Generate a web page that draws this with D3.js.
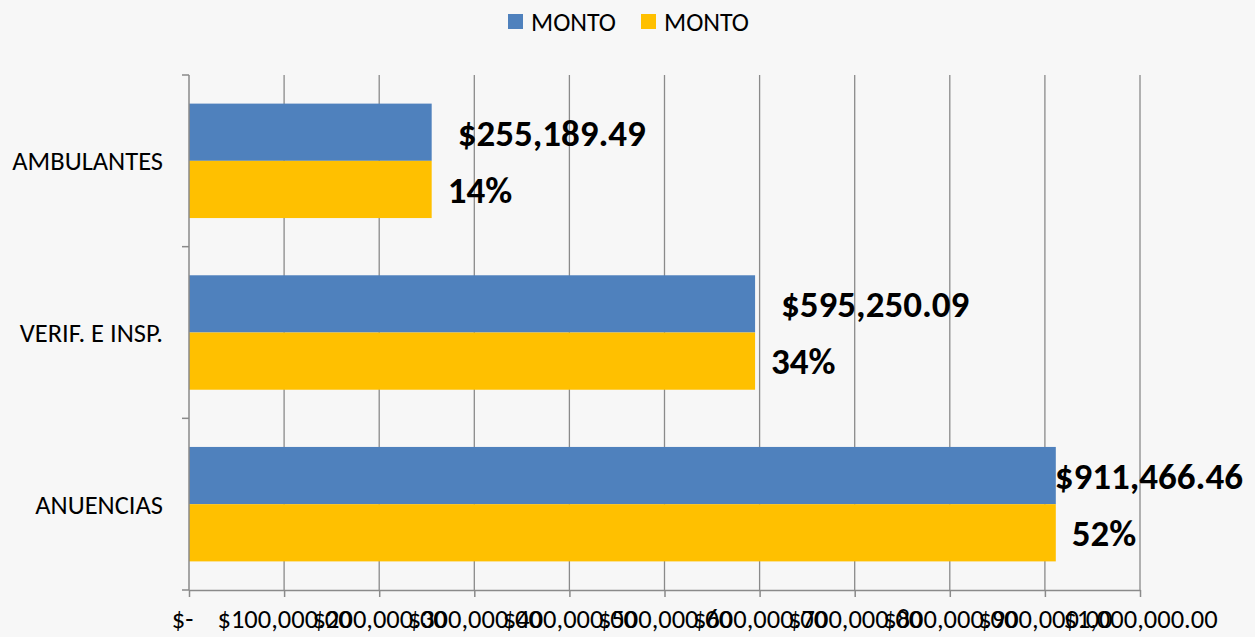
<!DOCTYPE html>
<html>
<head>
<meta charset="utf-8">
<script src="https://cdn.jsdelivr.net/npm/d3@7/dist/d3.min.js"></script>
<style>
	html, body { margin: 0; padding: 0; background: #f7f7f7; }
	svg { display: block; font-family: Carlito, Calibri, Lato, sans-serif; }
</style>
</head>
<body>
<div id="chart"></div>
<script>

	var categories   = ["AMBULANTES", "VERIF. E INSP.", "ANUENCIAS"];
	var seriesNames  = ["MONTO", "MONTO"];
	var seriesColors = ["#4f81bd", "#ffc000"];
	var montoValues  = [255189.49, 595250.09, 911466.46];
	var shareValues  = [255189.49, 595250.09, 911466.46];   // yellow bars are drawn at the same length
	var shareLabels  = ["14%", "34%", "52%"];
	var xTickValues  = [0, 100000, 200000, 300000, 400000, 500000, 600000, 700000, 800000, 900000, 1000000];

(function(){
	"use strict";

	var width   = 1255;
	var height  = 637;
	var pLeft   = 189;
	var pRight  = 1140;
	var pTop    = 75;
	var pBottom = 590;
	var axisColor = "#8a8a8a";
	var labelSize = "26.5px";
	var valueSize = "37px";

	var money = d3.format("$,.2f");

	var svg = d3.select("#chart")
				.append("svg")
				.attr("width", width)
				.attr("height", height);

	svg.append("rect")
		.attr("width", width)
		.attr("height", height)
		.style("fill", "#f7f7f7");

	var x = d3.scaleLinear()
				.domain([0, 1000000])
				.range([pLeft, pRight]);

	var y0 = d3.scaleBand()
				.domain(categories)
				.range([pTop, pBottom])
				.padding(0);

	var y1 = d3.scaleBand()
				.domain([0, 1])
				.range([0, y0.bandwidth()])
				.paddingInner(0)
				.paddingOuter(0.5);

	// vertical gridlines
	svg.append("g")
		.selectAll("line")
		.data(xTickValues.slice(1))
		.enter()
		.append("line")
		.attr("x1", function(d){ return x(d); })
		.attr("x2", function(d){ return x(d); })
		.attr("y1", pTop)
		.attr("y2", pBottom)
		.style("stroke", axisColor)
		.style("stroke-width", 1.3);

	// bars
	var rows = categories.map(function(c, i){
		return { cat: c, values: [montoValues[i], shareValues[i]], labels: [money(montoValues[i]), shareLabels[i]] };
	});

	var group = svg.selectAll("g.cat")
				.data(rows)
				.enter()
				.append("g")
				.attr("class", "cat")
				.attr("transform", function(d){ return "translate(0," + y0(d.cat) + ")"; });

	group.selectAll("rect")
		.data(function(d){ return d.values; })
		.enter()
		.append("rect")
		.attr("x", x(0))
		.attr("y", function(d, i){ return y1(i); })
		.attr("width", function(d){ return x(d) - x(0); })
		.attr("height", y1.bandwidth())
		.style("fill", function(d, i){ return seriesColors[i]; });

	// data labels
	group.each(function(d){
		var g = d3.select(this);
		var end = x(d.values[0]);

		var t = g.append("text")
				.attr("y", y1(0) + y1.bandwidth()/2)
				.attr("dy", "0.36em")
				.style("font-size", valueSize)
				.style("font-weight", "bold")
				.style("fill", "#000")
				.text(d.labels[0]);
		var w = t.node().getComputedTextLength();
		t.attr("x", Math.min(end + 26, width - 12 - w));

		g.append("text")
			.attr("x", x(d.values[1]) + 16)
			.attr("y", y1(1) + y1.bandwidth()/2)
			.attr("dy", "0.36em")
			.style("font-size", valueSize)
			.style("font-weight", "bold")
			.style("fill", "#000")
			.text(d.labels[1]);
	});

	// y axis
	var yAxis = svg.append("g")
				.attr("transform", "translate(" + pLeft + ",0)");

	yAxis.append("line")
		.attr("x1", 0).attr("x2", 0)
		.attr("y1", pTop).attr("y2", pBottom)
		.style("stroke", axisColor)
		.style("stroke-width", 1.5);

	yAxis.selectAll("line.tick")
		.data(categories.concat(["end"]))
		.enter()
		.append("line")
		.attr("class", "tick")
		.attr("x1", -7).attr("x2", 0)
		.attr("y1", function(d, i){ return pTop + i*y0.step(); })
		.attr("y2", function(d, i){ return pTop + i*y0.step(); })
		.style("stroke", axisColor)
		.style("stroke-width", 1.5);

	yAxis.selectAll("text")
		.data(categories)
		.enter()
		.append("text")
		.attr("x", -26)
		.attr("y", function(d){ return y0(d) + y0.bandwidth()/2; })
		.attr("dy", "0.36em")
		.attr("text-anchor", "end")
		.style("font-size", labelSize)
		.style("fill", "#000")
		.text(function(d){ return d; });

	// x axis
	var xAxis = svg.append("g")
				.attr("transform", "translate(0," + pBottom + ")")
				.call(d3.axisBottom(x)
						.tickValues(xTickValues)
						.tickSize(7)
						.tickSizeOuter(0)
						.tickPadding(12)
						.tickFormat(function(d){ return d === 0 ? "$-" : money(d); }));

	xAxis.select(".domain")
		.style("stroke", axisColor)
		.style("stroke-width", 1.5);
	xAxis.selectAll(".tick line")
		.style("stroke", axisColor)
		.style("stroke-width", 1.5);
	xAxis.selectAll(".tick text")
		.style("font-size", "26.5px")
		.style("font-family", "Carlito, Calibri, Lato, sans-serif")
		.style("fill", "#000")
		.attr("dx", function(d){ return d === 0 ? -7 : 0; });

	// legend
	var legendX = [508, 641];
	var legend = svg.selectAll("g.legend")
				.data(seriesNames)
				.enter()
				.append("g")
				.attr("class", "legend")
				.attr("transform", function(d, i){ return "translate(" + legendX[i] + ",14)"; });

	legend.append("rect")
		.attr("width", 15)
		.attr("height", 15)
		.style("fill", function(d, i){ return seriesColors[i]; });

	legend.append("text")
		.attr("x", 23)
		.attr("y", 7.5)
		.attr("dy", "0.36em")
		.style("font-size", "25.9px")
		.style("fill", "#000")
		.text(function(d){ return d; });
})();

</script>
</body>
</html>
